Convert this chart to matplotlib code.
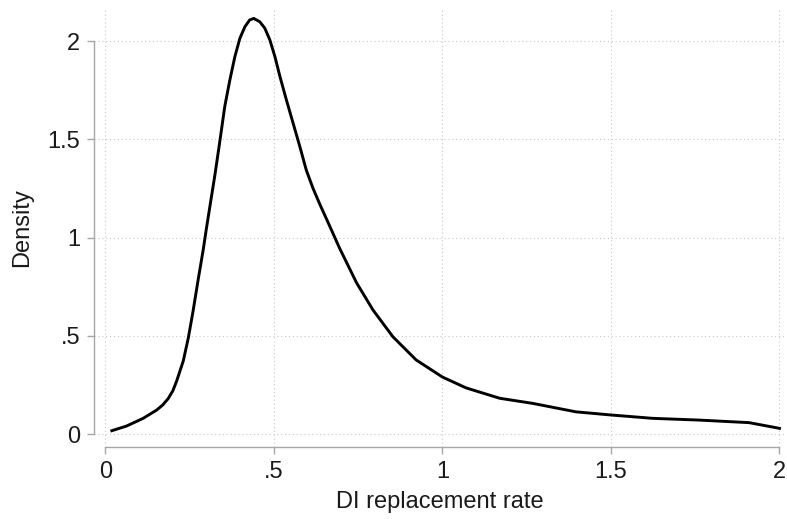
import matplotlib

matplotlib.use("Agg")
import matplotlib.pyplot as plt

# kernel density of DI replacement rate
rate = [0.019, 0.063, 0.112, 0.152, 0.17, 0.186, 0.2, 0.211, 0.231, 0.246, 0.26, 0.275, 0.29, 0.30,
        0.312, 0.325, 0.34, 0.354, 0.369, 0.384, 0.399, 0.414, 0.428, 0.44, 0.458, 0.473, 0.488,
        0.503, 0.518, 0.537, 0.557, 0.577, 0.596, 0.616, 0.636, 0.665, 0.695, 0.745, 0.794,
        0.853, 0.922, 1.0, 1.07, 1.17, 1.268, 1.396, 1.5, 1.623, 1.762, 1.91, 2.0]
density = [0.017, 0.041, 0.08, 0.122, 0.148, 0.18, 0.22, 0.268, 0.372, 0.49, 0.625, 0.784, 0.936,
           1.05, 1.18, 1.32, 1.496, 1.666, 1.80, 1.92, 2.014, 2.073, 2.107, 2.115, 2.098, 2.065,
           2.005, 1.92, 1.818, 1.70, 1.581, 1.462, 1.343, 1.25, 1.17, 1.06, 0.945, 0.77, 0.631,
           0.495, 0.377, 0.29, 0.235, 0.182, 0.156, 0.113, 0.097, 0.08, 0.071, 0.058, 0.029]

x_ticks = [0, 0.5, 1, 1.5, 2]
x_tick_labels = ["0", ".5", "1", "1.5", "2"]
y_ticks = [0, 0.5, 1, 1.5, 2]
y_tick_labels = ["0", ".5", "1", "1.5", "2"]

plt.rcParams["font.family"] = ["Liberation Sans", "DejaVu Sans"]
axis_grey = "#a6a6a6"
text_color = "#1a1a1a"

fig = plt.figure(figsize=(7.87, 5.19), dpi=100)
ax = fig.add_axes([0.1194, 0.1387, 0.8796, 0.844])

ax.plot(rate, density, color="black", linewidth=2.1, solid_joinstyle="round")

ax.set_xlim(-0.034, 2.02)
ax.set_ylim(-0.066, 2.163)
ax.set_xticks(x_ticks)
ax.set_xticklabels(x_tick_labels)
ax.set_yticks(y_ticks)
ax.set_yticklabels(y_tick_labels)

ax.grid(True, linestyle=(0, (1, 2.5)), color="#c8c8c8", linewidth=0.8)
ax.set_axisbelow(True)

for side in ["top", "right"]:
    ax.spines[side].set_visible(False)
for side in ["left", "bottom"]:
    ax.spines[side].set_color(axis_grey)
    ax.spines[side].set_linewidth(1.0)
ax.spines["left"].set_bounds(0, 2)
ax.spines["bottom"].set_bounds(0, 2)

ax.tick_params(axis="both", direction="out", length=5, width=1.0, color=axis_grey,
               labelsize=17, labelcolor=text_color, pad=5)

ax.set_xlabel("DI replacement rate", fontsize=17, color=text_color, labelpad=6)
ax.set_ylabel("Density", fontsize=17, color=text_color, labelpad=10)

fig.savefig("out.png", dpi=100)
